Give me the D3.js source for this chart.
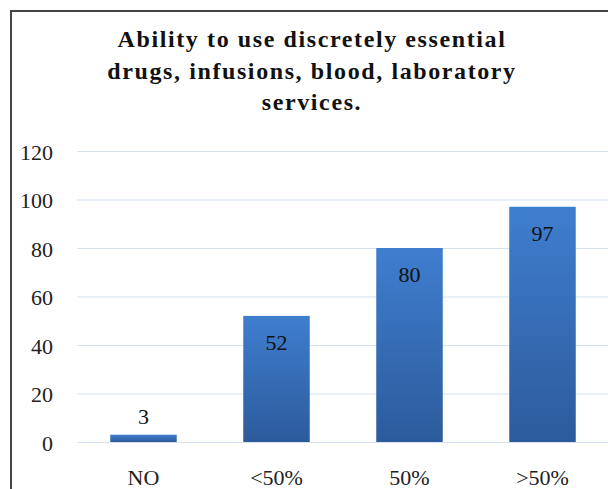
<!DOCTYPE html>
<html>
<head>
<meta charset="utf-8">
<script src="https://cdn.jsdelivr.net/npm/d3@7"></script>
<style>
  html, body { margin: 0; padding: 0; background: #fff; }
  svg { display: block; }
</style>
</head>
<body>
<script>
// Chart data
const categories = ["NO", "<50%", "50%", ">50%"];
const values = [3, 52, 80, 97];
const yTicks = [0, 20, 40, 60, 80, 100, 120];
const titleLines = [
  "Ability to use discretely essential",
  "drugs, infusions, blood, laboratory",
  "services."
];

const W = 608, H = 489;
const FONT = "'Liberation Serif', 'Times New Roman', serif";
const svg = d3.select("body").append("svg").attr("width", W).attr("height", H);

const defs = svg.append("defs");
const grad = defs.append("linearGradient")
  .attr("id", "barGrad").attr("x1", 0).attr("y1", 0).attr("x2", 0).attr("y2", 1);
grad.append("stop").attr("offset", "0%").attr("stop-color", "#3f7ecf");
grad.append("stop").attr("offset", "100%").attr("stop-color", "#2c5b9b");

// Outer frame of the chart area
svg.append("rect")
  .attr("x", 11).attr("y", 11).attr("width", W + 20).attr("height", H + 20)
  .attr("fill", "#fff").attr("stroke", "#444").attr("stroke-width", 2);

// Title
const title = svg.append("text")
  .attr("text-anchor", "middle")
  .attr("font-family", FONT)
  .attr("font-weight", "bold")
  .attr("font-size", 24)
  .attr("letter-spacing", 1.6)
  .attr("fill", "#111");
titleLines.forEach((t, i) => {
  title.append("tspan").attr("x", 312).attr("y", 47 + i * 31.5).text(t);
});

const x = d3.scaleBand().domain(categories).range([77, 609]).paddingInner(0.5).paddingOuter(0.25);
const y = d3.scaleLinear().domain([0, 120]).range([442, 151]);

// Gridlines
svg.append("g").selectAll("line").data(yTicks).join("line")
  .attr("x1", 77).attr("x2", W)
  .attr("y1", d => y(d) + 0.5).attr("y2", d => y(d) + 0.5)
  .attr("stroke", "#d6e2f2").attr("stroke-width", 1.2);

// Y axis labels
const yAxis = svg.append("g")
  .attr("transform", "translate(53,0)")
  .call(d3.axisLeft(y).tickValues(yTicks).tickSize(0).tickPadding(0));
yAxis.select(".domain").remove();
yAxis.selectAll("text")
  .attr("dy", "0.38em")
  .attr("font-family", FONT)
  .attr("font-size", 22).attr("fill", "#222");

// Bars
svg.append("g").selectAll("rect").data(values).join("rect")
  .attr("x", (d, i) => x(categories[i]))
  .attr("width", x.bandwidth())
  .attr("y", d => y(d))
  .attr("height", d => y(0) - y(d))
  .attr("fill", "url(#barGrad)");

// Value labels: inside the top for tall bars, above for short ones
svg.append("g").selectAll("text").data(values).join("text")
  .attr("x", (d, i) => x(categories[i]) + x.bandwidth() / 2)
  .attr("y", d => (y(0) - y(d) > 40 ? y(d) + 34 : y(d) - 11))
  .attr("text-anchor", "middle")
  .attr("font-family", FONT)
  .attr("font-size", 22).attr("fill", "#111")
  .text(d => d);

// X axis labels
const xAxis = svg.append("g")
  .attr("transform", "translate(0,442)")
  .call(d3.axisBottom(x).tickSize(0).tickPadding(27));
xAxis.select(".domain").remove();
xAxis.selectAll("text")
  .attr("font-family", FONT)
  .attr("font-size", 22).attr("fill", "#222");
</script>
</body>
</html>
